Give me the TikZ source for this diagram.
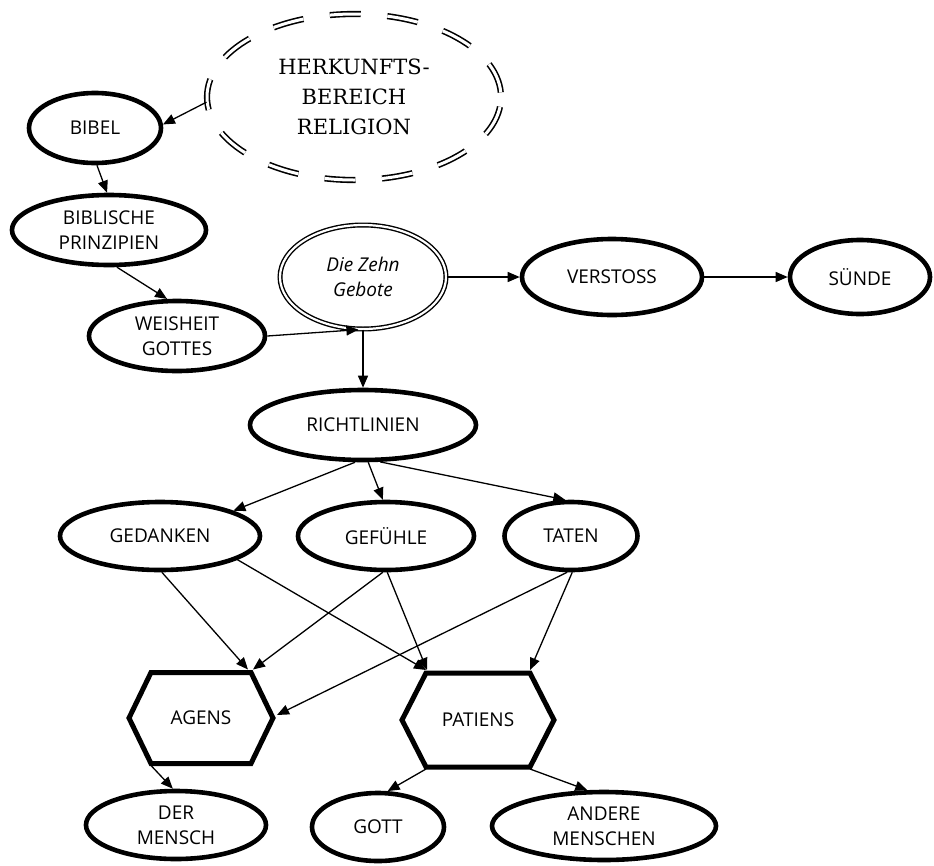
\documentclass[tikz,border=0pt]{standalone}
\usepackage{fontspec}
\setmainfont{Open Sans}
\newfontfamily\slabfont{DejaVu Serif}
\usetikzlibrary{shapes.geometric,arrows.meta}

\begin{document}
\begin{tikzpicture}[x=1pt,y=-1pt,
  every node/.style={font=\fontsize{19}{25}\selectfont, align=center, inner sep=0pt},
  oval/.style={ellipse, draw, line width=4.6pt},
  sourceoval/.style={ellipse, draw, line width=1.6pt, double, double distance=3pt,
    dash pattern=on 31pt off 26.6pt, dash phase=53pt},
  lawoval/.style={ellipse, draw, line width=1.4pt, double, double distance=2.2pt},
  hexbase/.style={rectangle, draw=none, outer sep=0pt},
  hexline/.style={draw, line width=5pt, line join=miter},
  conn/.style={draw, line width=1.3pt, -{Triangle[length=12pt,width=10pt]}}
]
\useasboundingbox (0,0) rectangle (934,865);

% origin of the concepts
\node[sourceoval, minimum width=294pt, minimum height=166pt,
      font=\slabfont\fontsize{21}{30}\selectfont] (herk) at (354,97)
      {HERKUNFTS-\\BEREICH\\RELIGION};
\node[oval, minimum width=132pt, minimum height=70pt] (bibel) at (95,128) {BIBEL};
\node[oval, minimum width=194pt, minimum height=70pt] (biblisch) at (109,230) {BIBLISCHE\\PRINZIPIEN};
\node[oval, minimum width=176pt, minimum height=70pt] (weisheit) at (177,336) {WEISHEIT\\GOTTES};
\node[lawoval, minimum width=166pt, minimum height=104pt,
      font=\itshape\fontsize{19}{25}\selectfont] (zehn) at (363,277) {Die Zehn\\Gebote};
\node[oval, minimum width=180pt, minimum height=76pt] (verstoss) at (612,277) {VERSTOSS};
\node[oval, minimum width=140pt, minimum height=74pt] (suende) at (860,277) {SÜNDE};
\node[oval, minimum width=226pt, minimum height=70pt] (richt) at (363,425) {RICHTLINIEN};

% domains
\node[oval, minimum width=200pt, minimum height=68pt] (gedanken) at (160,536) {GEDANKEN};
\node[oval, minimum width=176pt, minimum height=68pt] (gefuehle) at (386,536) {GEFÜHLE};
\node[oval, minimum width=133pt, minimum height=68pt] (taten) at (571,536) {TATEN};

% roles
\node[hexbase, minimum width=144pt, minimum height=91pt] (agens) at (201,718) {AGENS};
\draw[hexline] (agens.west) -- ([xshift=22pt]agens.north west) -- ([xshift=-22pt]agens.north east)
  -- (agens.east) -- ([xshift=-22pt]agens.south east) -- ([xshift=22pt]agens.south west) -- cycle;
\node[hexbase, minimum width=152pt, minimum height=94pt] (patiens) at (478,720) {PATIENS};
\draw[hexline] (patiens.west) -- ([xshift=24pt]patiens.north west) -- ([xshift=-24pt]patiens.north east)
  -- (patiens.east) -- ([xshift=-24pt]patiens.south east) -- ([xshift=24pt]patiens.south west) -- cycle;

\coordinate (agens-tr) at ([xshift=-22pt,yshift=3pt]agens.north east);
\coordinate (agens-e)  at ([xshift=4pt,yshift=3pt]agens.east);
\coordinate (agens-bl) at ([xshift=22pt,yshift=-2pt]agens.south west);
\coordinate (patiens-tl) at ([xshift=24pt,yshift=3pt]patiens.north west);
\coordinate (patiens-tr) at ([xshift=-24pt,yshift=3pt]patiens.north east);
\coordinate (patiens-bl) at ([xshift=24pt,yshift=-2pt]patiens.south west);
\coordinate (patiens-br) at ([xshift=-24pt,yshift=-2pt]patiens.south east);

% persons concerned
\node[oval, minimum width=180pt, minimum height=68pt] (dermensch) at (176,825) {DER\\MENSCH};
\node[oval, minimum width=132pt, minimum height=68pt] (gott) at (378,827) {GOTT};
\node[oval, minimum width=224pt, minimum height=68pt] (andere) at (604,826) {ANDERE\\MENSCHEN};

% connectors
\draw[conn] (herk.182) -- (bibel.3);
\draw[conn] (bibel.-87) -- (biblisch.93);
\draw[conn] (biblisch.-78) -- (weisheit.105);
\draw[conn] (weisheit.east) -- (zehn.-95);
\draw[conn] (zehn.south) -- (richt.north);
\draw[conn] (zehn.east) -- (verstoss.west);
\draw[conn] (verstoss.east) -- (suende.west);

\draw[conn] (richt.-102) -- (gedanken.19);
\draw[conn] (richt.-82) -- (gefuehle.95);
\draw[conn] (richt.-65) -- (taten.99);

\draw[conn] (gedanken.-87) -- ([xshift=-3pt]agens-tr);
\draw[conn] (gedanken.-17) -- (patiens-tl);
\draw[conn] (gefuehle.-95) -- ([xshift=2pt]agens-tr);
\draw[conn] (gefuehle.-88) -- ([xshift=1pt]patiens-tl);
\draw[conn] (taten.-96) -- (agens-e);
\draw[conn] (taten.-88) -- (patiens-tr);

\draw[conn] (agens-bl) -- (dermensch.95);
\draw[conn] (patiens-bl) -- (gott.75);
\draw[conn] (patiens-br) -- (andere.115);
\end{tikzpicture}
\end{document}
